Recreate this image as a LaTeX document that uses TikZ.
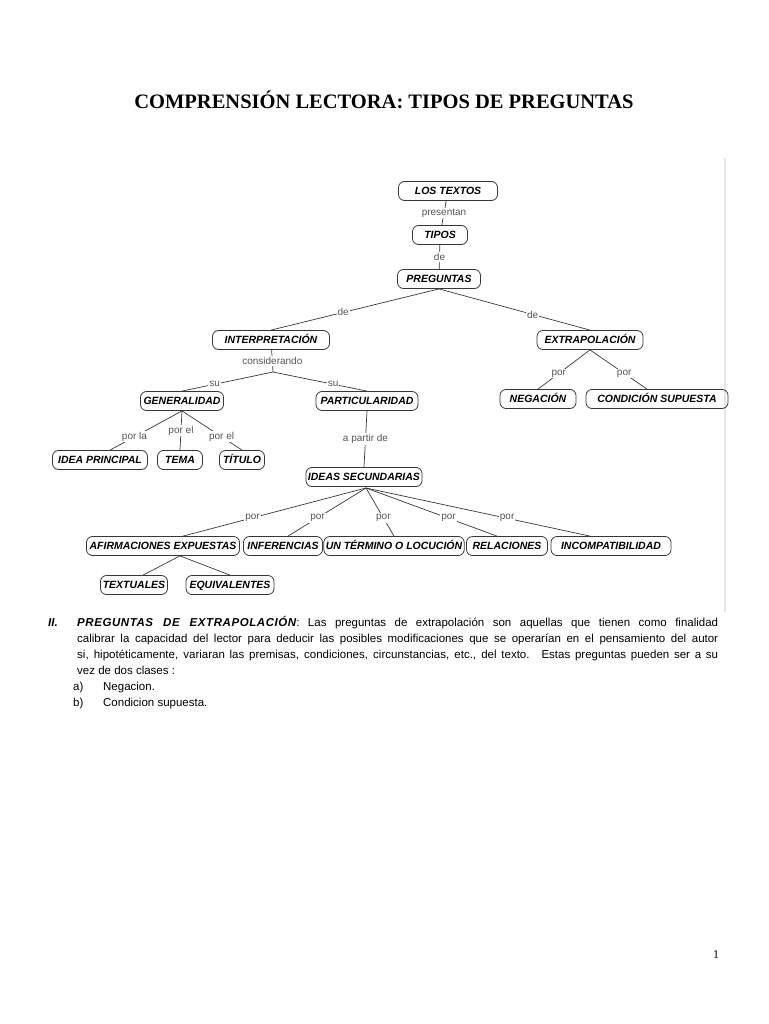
\documentclass[tikz,border=0pt]{standalone}
\usepackage{fontspec}
\setmainfont{Liberation Serif}
\setsansfont{Liberation Sans}
\usetikzlibrary{positioning}
\definecolor{linkgray}{RGB}{55,55,55}
\definecolor{labelgray}{RGB}{85,85,85}

\begin{document}
\begin{tikzpicture}[x=1pt, y=-1pt, font=\sffamily,
    concept/.style={draw=linkgray, rounded corners=6pt, line width=0.8pt, minimum height=19pt,
        inner xsep=2pt, inner ysep=1pt, text=black, text height=8pt, text depth=1.5pt,
        font=\sffamily\bfseries\itshape\fontsize{10.5}{12}\selectfont},
    lbl/.style={fill=white, inner sep=1pt, text=labelgray, font=\sffamily\fontsize{10}{12}\selectfont},
    link/.style={draw=linkgray, line width=0.7pt}]

\useasboundingbox (0,0) rectangle (768,1024);

% ==================== TITLE ====================
\node[font=\rmfamily\bfseries\fontsize{20.5}{24}\selectfont] (titulo0) at (384,100) {COMPRENSIÓN LECTORA: TIPOS DE PREGUNTAS};

% faint border at right of the scanned map
\draw[gray!20, line width=2pt] (725,158) -- (725,612);

% ==================== TOP ====================
\node[concept, minimum width=99pt] (textos) at (448,191) {LOS TEXTOS};
\node[concept, minimum width=55pt] (tipos) at (440,235) {TIPOS};
\node[concept, minimum width=83pt] (preg) at (439,279) {PREGUNTAS};

\draw[link] (textos) -- node[lbl] {presentan} (tipos);
\draw[link] (tipos) -- node[lbl] {de} (preg);

% Interpretacion / Extrapolacion
\node[concept, minimum width=117pt] (interp) at (271,340) {INTERPRETACIÓN};
\node[concept, minimum width=106pt] (extra) at (590,340) {EXTRAPOLACIÓN};

\draw[link] (preg.south) -- node[lbl, pos=0.57] {de} (interp.north);
\draw[link] (preg.south) -- node[lbl, pos=0.62] {de} (extra.north);

% ==================== LEFT BRANCH ====================
\coordinate (jint) at (273,372);
\node[concept, minimum width=83pt] (gen) at (182,401) {GENERALIDAD};
\node[concept, minimum width=102pt] (part) at (367,401) {PARTICULARIDAD};

\draw[link] (interp) -- node[lbl] {considerando} (jint);
\draw[link] (jint) -- node[lbl, pos=0.64] {su} (gen.north);
\draw[link] (jint) -- node[lbl, pos=0.64] {su} (part.north);

\node[concept, minimum width=95pt] (ideap) at (100,460) {IDEA PRINCIPAL};
\node[concept, minimum width=45pt] (tema) at (180,460) {TEMA};
\node[concept, minimum width=45pt] (titulo) at (242,460) {TÍTULO};

\draw[link] (gen.south) -- node[lbl, pos=0.66] {por la} ([xshift=10pt]ideap.north);
\draw[link] (gen.south) -- node[lbl, pos=0.5] {por el} (tema.north);
\draw[link] (gen.south) -- node[lbl, pos=0.66] {por el} (titulo.north);

% Ideas secundarias
\node[concept, minimum width=111pt] (ideas) at (364,477) {IDEAS SECUNDARIAS};
\draw[link] (part.south) -- node[lbl] {a partir de} (ideas.north);

\coordinate (jsec) at (366,488);
\node[concept, minimum width=153pt] (afirm) at (163,546) {AFIRMACIONES EXPUESTAS};
\node[concept, minimum width=79pt] (infer) at (283,546) {INFERENCIAS};
\node[concept, minimum width=135pt] (termino) at (394,546) {UN TÉRMINO O LOCUCIÓN};
\node[concept, minimum width=81pt] (relac) at (507,546) {RELACIONES};
\node[concept, minimum width=120pt] (incomp) at (611,546) {INCOMPATIBILIDAD};

\draw[link] (jsec) -- node[lbl, pos=0.62] {por} ([xshift=20pt]afirm.north);
\draw[link] (jsec) -- node[lbl, pos=0.62] {por} ([xshift=5pt]infer.north);
\draw[link] (jsec) -- node[lbl, pos=0.62] {por} (termino.north);
\draw[link] (jsec) -- node[lbl, pos=0.63] {por} ([xshift=-10pt]relac.north);
\draw[link] (jsec) -- node[lbl, pos=0.63] {por} ([xshift=-21pt]incomp.north);

\node[concept, minimum width=67pt] (textu) at (134,585) {TEXTUALES};
\node[concept, minimum width=88pt] (equiv) at (230,585) {EQUIVALENTES};

\draw[link] ([xshift=17pt]afirm.south) -- ([xshift=9pt]textu.north);
\draw[link] ([xshift=17pt]afirm.south) -- (equiv.north);

% ==================== RIGHT BRANCH ====================
\node[concept, minimum width=76pt] (neg) at (538,399) {NEGACIÓN};
\node[concept, minimum width=142pt] (cond) at (657,399) {CONDICIÓN SUPUESTA};

\draw[link] (extra.south) -- node[lbl, pos=0.6] {por} (neg.north);
\draw[link] (extra.south) -- node[lbl, pos=0.6] {por} ([xshift=-10pt]cond.north);

% ==================== TEXT BELOW ====================
\node[anchor=north west, inner sep=0pt, text width=670pt, align=justify,
      font=\sffamily\fontsize{11.5}{16}\selectfont] (parr) at (48,616)
  {\hangindent=29pt\hangafter=1\makebox[29pt][l]{\bfseries\itshape II.}{\bfseries\itshape\addfontfeatures{LetterSpace=5}PREGUNTAS DE EXTRAPOLACIÓN}: Las preguntas de extrapolación son aquellas que tienen como finalidad\linebreak
   calibrar la capacidad del lector para deducir las posibles modificaciones que se operarían en el pensamiento del autor\linebreak
   si, hipotéticamente, variaran las premisas, condiciones, circunstancias, etc., del texto.\hspace{3pt} Estas preguntas pueden ser a su\linebreak
   vez de dos clases :\par
   \hspace*{25pt}\makebox[30pt][l]{a)}Negacion.\par
   \hspace*{25pt}\makebox[30pt][l]{b)}Condicion supuesta.};

\node[font=\rmfamily\fontsize{12}{14}\selectfont] (pagnum) at (716,955) {1};

\end{tikzpicture}
\end{document}
